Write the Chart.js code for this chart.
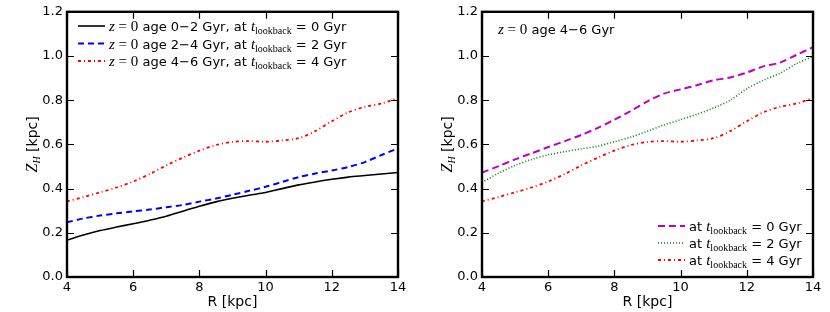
<!DOCTYPE html>
<html>
<head>
<meta charset="utf-8">
<script src="https://cdn.jsdelivr.net/npm/chart.js@4.4.1/dist/chart.umd.min.js"></script>
<style>
  html, body { margin: 0; padding: 0; background: #fff; }
  .row { display: flex; width: 830px; height: 312px; }
  .panel { width: 415px; height: 312px; }
</style>
</head>
<body>
<div class="row">
  <div class="panel"><canvas id="leftChart" width="415" height="312"></canvas></div>
  <div class="panel"><canvas id="rightChart" width="415" height="312"></canvas></div>
</div>
<script>
// galactocentric radius [kpc]
const radius = [4, 4.5, 5, 5.5, 6, 6.5, 7, 7.5, 8, 8.5, 9, 9.5, 10, 10.5, 11, 11.5, 12, 12.5, 13, 13.5, 14];

// scale height Z_H [kpc]
const age02_t0 = [0.167, 0.19, 0.21, 0.226, 0.241, 0.257, 0.275, 0.298, 0.32, 0.34, 0.356, 0.37, 0.382, 0.4, 0.417, 0.43, 0.442, 0.452, 0.459, 0.466, 0.473];
const age24_t2 = [0.248, 0.265, 0.278, 0.288, 0.297, 0.305, 0.316, 0.326, 0.341, 0.355, 0.372, 0.39, 0.408, 0.43, 0.452, 0.468, 0.482, 0.498, 0.52, 0.552, 0.582];
const age46_t4 = [0.342, 0.362, 0.383, 0.405, 0.432, 0.466, 0.505, 0.54, 0.572, 0.597, 0.611, 0.615, 0.612, 0.618, 0.628, 0.66, 0.705, 0.745, 0.77, 0.785, 0.81];
const age46_t0 = [0.472, 0.502, 0.532, 0.56, 0.588, 0.615, 0.643, 0.675, 0.712, 0.752, 0.795, 0.83, 0.849, 0.868, 0.89, 0.903, 0.925, 0.953, 0.97, 1.005, 1.04];
const age46_t2 = [0.428, 0.47, 0.505, 0.532, 0.553, 0.567, 0.58, 0.592, 0.612, 0.633, 0.66, 0.688, 0.712, 0.737, 0.765, 0.8, 0.852, 0.89, 0.922, 0.965, 0.998];

const xTicks = [4, 6, 8, 10, 12, 14];
const yTicks = [0.0, 0.2, 0.4, 0.6, 0.8, 1.0, 1.2];

const SANS = '"DejaVu Sans", sans-serif';
const MATH_I = 'italic 15px "Liberation Serif", serif';
const MATH_R = '15px "Liberation Serif", serif';
const SUB = '10px "Liberation Serif", serif';
const TXT = '13px ' + SANS;

const styles = {
  black:   { color: '#000000', width: 1.6, dash: [] },
  blue:    { color: '#0000ff', width: 2, dash: [6, 4] },
  red:     { color: '#ff0000', width: 1.8, dash: [3, 3, 1, 3] },
  magenta: { color: '#bf00bf', width: 2, dash: [7, 4] },
  green:   { color: '#008000', width: 1.6, dash: [1, 2] }
};

function zeq() {
  return [
    { t: 'z', f: MATH_I }, { t: ' = ', f: MATH_R }, { t: '0', f: MATH_R }
  ];
}
function tlb(rest) {
  return [
    { t: 't', f: MATH_I }, { t: 'lookback', f: SUB, dy: 3 }, { t: rest, f: TXT }
  ];
}

function drawRich(ctx, x, y, parts) {
  ctx.textBaseline = 'alphabetic';
  ctx.textAlign = 'left';
  for (const p of parts) {
    ctx.font = p.f;
    ctx.fillText(p.t, x, y + (p.dy || 0));
    x += ctx.measureText(p.t).width;
  }
  return x;
}
function richWidth(ctx, parts) {
  let w = 0;
  for (const p of parts) { ctx.font = p.f; w += ctx.measureText(p.t).width; }
  return w;
}

const framePlugin = {
  id: 'frame',
  afterDraw(chart, args, opts) {
    const ctx = chart.ctx;
    const a = chart.chartArea;
    const xs = chart.scales.x, ys = chart.scales.y;
    ctx.save();
    ctx.strokeStyle = '#000';
    ctx.fillStyle = '#000';
    ctx.setLineDash([]);
    // inward ticks
    ctx.lineWidth = 1.2;
    ctx.beginPath();
    for (const v of xTicks) {
      const px = Math.round(xs.getPixelForValue(v)) + 0.5;
      ctx.moveTo(px, a.bottom); ctx.lineTo(px, a.bottom - 7);
      ctx.moveTo(px, a.top); ctx.lineTo(px, a.top + 7);
    }
    for (const v of yTicks) {
      const py = Math.round(ys.getPixelForValue(v)) + 0.5;
      ctx.moveTo(a.left, py); ctx.lineTo(a.left + 7, py);
      ctx.moveTo(a.right, py); ctx.lineTo(a.right - 7, py);
    }
    ctx.stroke();
    // box
    ctx.lineWidth = 2.4;
    ctx.strokeRect(a.left, a.top, a.right - a.left, a.bottom - a.top);

    // axis titles
    ctx.font = '14px ' + SANS;
    ctx.textAlign = 'center';
    ctx.textBaseline = 'middle';
    ctx.fillText('R [kpc]', (a.left + a.right) / 2, 302);

    const yt = [{ t: 'Z', f: 'italic 16px "Liberation Serif", serif' }, { t: 'H', f: 'italic 10px "Liberation Serif", serif', dy: 3 }, { t: ' [kpc]', f: '14px ' + SANS }];
    ctx.save();
    ctx.translate(37, (a.top + a.bottom) / 2);
    ctx.rotate(-Math.PI / 2);
    const w = richWidth(ctx, yt);
    drawRich(ctx, -w / 2, 0, yt);
    ctx.restore();

    // legend
    if (opts.legend) {
      const L = opts.legend;
      L.rows.forEach((r, i) => {
        const cy = L.y + i * L.gap;
        const st = styles[r.style];
        ctx.strokeStyle = st.color;
        ctx.lineWidth = st.width;
        ctx.setLineDash(st.dash);
        ctx.beginPath();
        ctx.moveTo(L.x, cy); ctx.lineTo(L.x + 27, cy);
        ctx.stroke();
        ctx.setLineDash([]);
        ctx.fillStyle = '#000';
        drawRich(ctx, L.x + 31, cy + 5, r.parts);
      });
    }
    if (opts.note) {
      drawRich(ctx, opts.note.x, opts.note.y, opts.note.parts);
    }
    ctx.restore();
  }
};

function lineSet(label, data, st) {
  const s = styles[st];
  return {
    label: label,
    data: radius.map((r, i) => ({ x: r, y: data[i] })),
    borderColor: s.color,
    borderWidth: s.width,
    borderDash: s.dash,
    pointRadius: 0,
    tension: 0.3,
    fill: false
  };
}

function makeChart(id, datasets, frameOpts) {
  return new Chart(document.getElementById(id), {
    type: 'line',
    data: { datasets: datasets },
    options: {
      responsive: false,
      animation: false,
      layout: { padding: { top: 9, right: 17, left: 0, bottom: 0 } },
      plugins: { legend: { display: false }, tooltip: { enabled: false }, frame: frameOpts },
      scales: {
        x: {
          type: 'linear', min: 4, max: 14,
          afterBuildTicks: s => { s.ticks = xTicks.map(v => ({ value: v })); },
          afterFit: s => { s.height = 35; },
          grid: { display: false, drawTicks: false },
          border: { display: false },
          ticks: { color: '#000', font: { family: SANS, size: 13 }, padding: 3, maxRotation: 0 }
        },
        y: {
          min: 0, max: 1.2,
          afterBuildTicks: s => { s.ticks = yTicks.map(v => ({ value: v })); },
          afterFit: s => { s.width = 67; },
          grid: { display: false, drawTicks: false },
          border: { display: false },
          ticks: { color: '#000', font: { family: SANS, size: 13 }, padding: 4, callback: v => v.toFixed(1) }
        }
      }
    },
    plugins: [framePlugin]
  });
}

makeChart('leftChart', [
  lineSet('age 0-2 Gyr, t=0', age02_t0, 'black'),
  lineSet('age 2-4 Gyr, t=2', age24_t2, 'blue'),
  lineSet('age 4-6 Gyr, t=4', age46_t4, 'red')
], {
  legend: {
    x: 78, y: 26, gap: 17.5,
    rows: [
      { style: 'black', parts: zeq().concat([{ t: ' age 0\u22122 Gyr, at ', f: TXT }], tlb(' = 0 Gyr')) },
      { style: 'blue', parts: zeq().concat([{ t: ' age 2\u22124 Gyr, at ', f: TXT }], tlb(' = 2 Gyr')) },
      { style: 'red', parts: zeq().concat([{ t: ' age 4\u22126 Gyr, at ', f: TXT }], tlb(' = 4 Gyr')) }
    ]
  }
});

makeChart('rightChart', [
  lineSet('t=0', age46_t0, 'magenta'),
  lineSet('t=2', age46_t2, 'green'),
  lineSet('t=4', age46_t4, 'red')
], {
  legend: {
    x: 243, y: 226, gap: 17,
    rows: [
      { style: 'magenta', parts: [{ t: 'at ', f: TXT }].concat(tlb(' = 0 Gyr')) },
      { style: 'green', parts: [{ t: 'at ', f: TXT }].concat(tlb(' = 2 Gyr')) },
      { style: 'red', parts: [{ t: 'at ', f: TXT }].concat(tlb(' = 4 Gyr')) }
    ]
  },
  note: { x: 83, y: 34, parts: zeq().concat([{ t: ' age 4\u22126 Gyr', f: TXT }]) }
});
</script>
</body>
</html>
